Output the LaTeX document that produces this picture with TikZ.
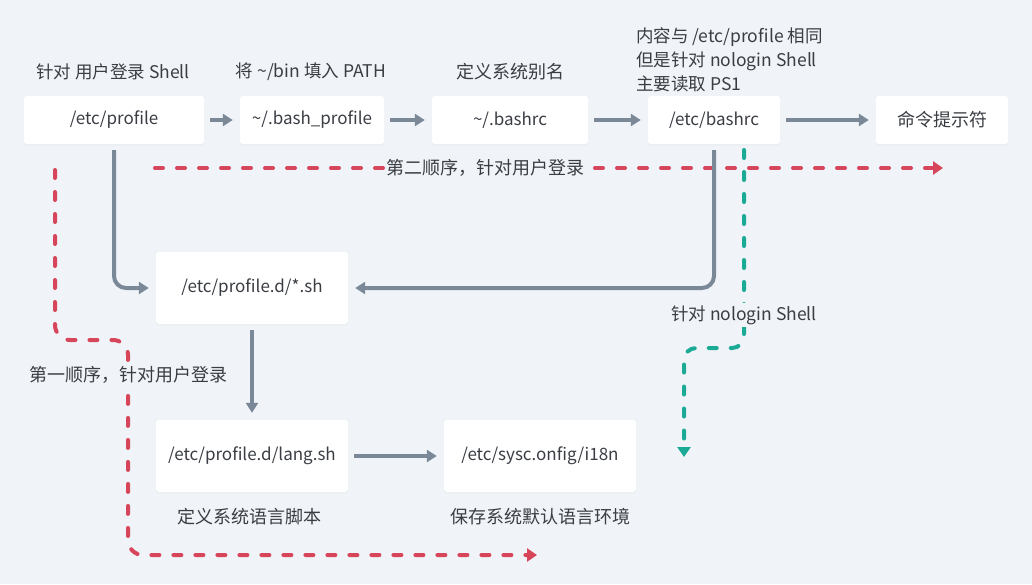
\documentclass[tikz,border=0pt]{standalone}
\usepackage{fontspec}
\setmainfont{Noto Sans CJK SC}
\usetikzlibrary{arrows.meta,shadows,calc}
\definecolor{bg}{HTML}{F0F3F7}
\definecolor{gline}{HTML}{7A8898}
\definecolor{rline}{HTML}{D7455B}
\definecolor{tline}{HTML}{1BAA96}
\definecolor{txt}{HTML}{3A3E44}
\begin{document}
\begin{tikzpicture}[x=1pt,y=-1pt,
  box/.style={fill=white, rounded corners=3pt, minimum height=48pt, inner sep=0pt,
    text=txt, font=\fontsize{17}{20}\selectfont,
    drop shadow={opacity=0.05, shadow xshift=0pt, shadow yshift=-1.5pt}},
  tallbox/.style={box, minimum height=72pt, minimum width=192pt},
  lbl/.style={inner sep=0pt, text=txt, font=\fontsize{17.5}{20}\selectfont},
  cjk/.style={font=\fontsize{18}{21}\selectfont},
  bglbl/.style={lbl, fill=bg, inner xsep=0.5pt, inner ysep=2pt},
  garrow/.style={draw=gline, line width=4pt, -{Triangle[length=10pt,width=12pt]},
    shorten <=6pt, shorten >=7pt},
  rarrow/.style={draw=rline, line width=4pt, line cap=round, dash pattern=on 8pt off 14pt,
    -{Triangle[length=10pt,width=13pt]}, rounded corners=15pt},
  tarrow/.style={draw=tline, line width=4pt, line cap=round, dash pattern=on 8pt off 14pt,
    -{Triangle[length=10pt,width=13pt]}, rounded corners=12pt}
]
\fill[bg] (0,0) rectangle (1032,584);
\useasboundingbox (0,0) rectangle (1032,584);

% boxes
\node[box, minimum width=180pt] (prof) at (114,120) {/etc/profile};
\node[box, minimum width=144pt] (bprof) at (312,120) {\string~/.bash\_profile};
\node[box, minimum width=156pt] (ubrc) at (510,120) {\string~/.bashrc};
\node[box, minimum width=132pt] (ebrc) at (714,120) {/etc/bashrc};
\node[box, minimum width=132pt, cjk] (prompt) at (942,120) {命令提示符};
\node[tallbox] (star) at (252,288) {/etc/profile.d/*.sh};
\node[tallbox] (lang) at (252,456) {/etc/profile.d/lang.sh};
\node[tallbox] (i18n) at (540,456) {/etc/sysc.onfig/i18n};

% labels
\node[lbl] (l1) at (113,72) {针对 用户登录 Shell};
\node[lbl] (l2) at (311,72) {将 \string~/bin 填入 PATH};
\node[lbl, cjk] (l3) at (510,72) {定义系统别名};
\node[lbl, anchor=west, align=left, font=\fontsize{17.5}{24}\selectfont] (l4) at (636,60)
  {内容与 /etc/profile 相同\\但是针对 nologin Shell\\主要读取 PS1};
\node[lbl, cjk] (l5) at (249,517) {定义系统语言脚本};
\node[lbl, cjk] (l6) at (540,517) {保存系统默认语言环境};

% red dashed: second order
\coordinate (r2s) at (155,168);
\coordinate (r2e) at (943,168);
\draw[rarrow] (r2s) -- (r2e);
\node[bglbl, cjk] (ord2) at (485,168) {第二顺序，针对用户登录};

% red dashed: first order
\coordinate (r1a) at (55,170);
\coordinate (r1b) at (128,340);
\coordinate (r1c) at (537,555);
\draw[rarrow] (r1a) |- (r1b) |- (r1c);
\node[bglbl, cjk] (ord1) at (128,375) {第一顺序，针对用户登录};

% grey arrows
\draw[garrow] (prof) -- (bprof);
\draw[garrow] (bprof) -- (ubrc);
\draw[garrow] (ubrc) -- (ebrc);
\draw[garrow] (ebrc) -- (prompt);
\draw[garrow, rounded corners=12pt] (prof.south) |- (star.west);
\draw[garrow, rounded corners=12pt] (ebrc.south) |- (star.east);
\draw[garrow] (star) -- (lang);
\draw[garrow] (lang) -- (i18n);

% teal dashed
\coordinate (t0) at (744,150);
\coordinate (t1) at (684,348);
\coordinate (t2) at (684,457);
\draw[tarrow] (t0) |- (t1) -- (t2);
\node[bglbl] (nolog) at (744,315) {针对 nologin Shell};
\end{tikzpicture}
\end{document}
